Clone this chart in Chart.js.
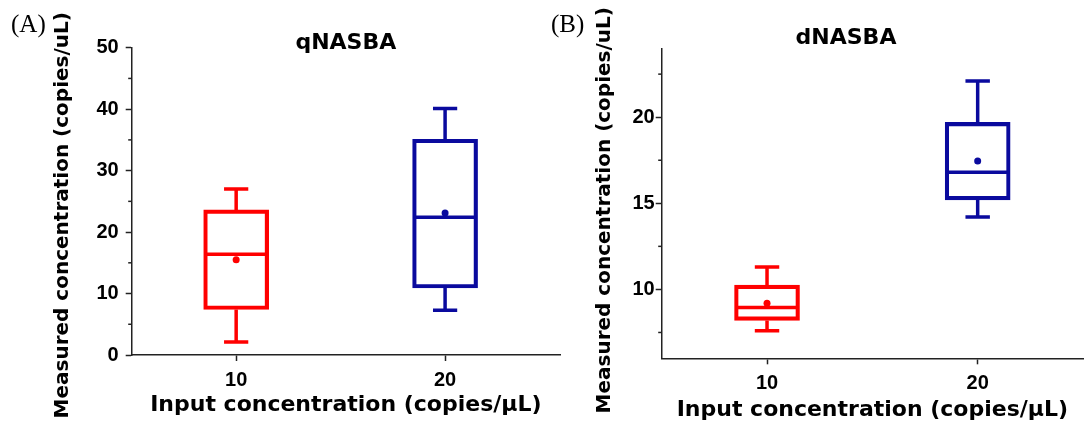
<!DOCTYPE html>
<html><head><meta charset="utf-8">
<script src="https://cdn.jsdelivr.net/npm/chart.js@4.4.0/dist/chart.umd.min.js"></script>
<style>
html,body{margin:0;padding:0;width:1090px;height:427px;overflow:hidden;background:#fff;}
#wrap{position:relative;width:1090px;height:427px;}
canvas{position:absolute;top:0;}
.plabel{position:absolute;font-family:"Liberation Serif","Times New Roman",serif;font-size:25px;line-height:25px;color:#000;}
</style></head>
<body><div id="wrap">
<canvas id="chartA" width="575" height="427" style="left:0px"></canvas>
<canvas id="chartB" width="545" height="427" style="left:545px"></canvas>
<div class="plabel" style="left:11px;top:11px">(A)</div>
<div class="plabel" style="left:551px;top:11px">(B)</div>
</div>
<script>
// ---------- data ----------
const CATEGORIES = [10, 20];
const X_TICKS = [10, 20];
const COLORS = ['#FF0000', '#0A0A9E'];

// Panel A: qNASBA
const A_MIN    = [2.1, 7.3];
const A_Q1     = [7.4, 10.9];
const A_MEDIAN = [16.4, 22.4];
const A_MEAN   = [15.5, 23.1];
const A_Q3     = [23.6, 35.1];
const A_MAX    = [27.0, 40.1];
const A_Y_TICKS = [0, 10, 20, 30, 40, 50];
const A_Y_MINOR = [5, 15, 25, 35, 45];

// Panel B: dNASBA
const B_MIN    = [7.6, 14.2];
const B_Q1     = [8.2, 15.2];
const B_MEDIAN = [8.95, 16.8];
const B_MEAN   = [9.2, 17.45];
const B_Q3     = [10.25, 19.7];
const B_MAX    = [11.3, 22.1];
const B_Y_TICKS = [10, 15, 20];
const B_Y_MINOR = [7.5, 12.5, 17.5, 22.5];

// ---------- styling ----------
const CAP_HALF = 0.58;
const MED_HALF = 1.5;
const AXIS = '#222';
const TICK_FONT = '"Liberation Sans", Arial, sans-serif';
const TITLE_FONT = '"DejaVu Sans", sans-serif';
const LW = 3.5;
const Y_TITLE = 'Measured concentration (copies/uL)';
const X_TITLE = 'Input concentration (copies/μL)';

function buildDatasets(min, q1, med, mean, q3, max) {
  const ds = [];
  ds.push({
    type: 'bar', label: 'box',
    data: CATEGORIES.map((c, i) => ({x: c, y: [q1[i], q3[i]]})),
    backgroundColor: 'rgba(0,0,0,0)', borderColor: COLORS, borderWidth: LW,
    borderSkipped: false, barThickness: 65, order: 2
  });
  CATEGORIES.forEach((c, i) => {
    ds.push({
      type: 'line', label: 'whiskers',
      data: [
        {x: c, y: q3[i]}, {x: c, y: max[i]}, {x: c, y: null},
        {x: c - CAP_HALF, y: max[i]}, {x: c + CAP_HALF, y: max[i]}, {x: c, y: null},
        {x: c, y: q1[i]}, {x: c, y: min[i]}, {x: c, y: null},
        {x: c - CAP_HALF, y: min[i]}, {x: c + CAP_HALF, y: min[i]}, {x: c, y: null},
        {x: c - MED_HALF, y: med[i]}, {x: c + MED_HALF, y: med[i]}
      ],
      borderColor: COLORS[i], borderWidth: LW, pointRadius: 0, spanGaps: false,
      tension: 0, fill: false, borderCapStyle: 'butt', order: 1
    });
  });
  ds.push({
    type: 'scatter', label: 'mean',
    data: CATEGORIES.map((c, i) => ({x: c, y: mean[i]})),
    backgroundColor: COLORS, borderColor: COLORS, pointRadius: 3.5, borderWidth: 0, order: 0
  });
  return ds;
}

const minorTicks = {
  id: 'minorTicks',
  afterDraw(chart, args, opts) {
    const y = chart.scales.y, ctx = chart.ctx, left = chart.chartArea.left;
    ctx.save();
    ctx.strokeStyle = AXIS; ctx.lineWidth = 1.5;
    opts.values.forEach(v => {
      const py = y.getPixelForValue(v);
      ctx.beginPath(); ctx.moveTo(left - opts.length, py); ctx.lineTo(left, py); ctx.stroke();
    });
    ctx.restore();
  }
};

function makeChart(id, cfg) {
  const TS = 22;                 // title font size
  const tLH = TS * 1.2;
  const padL = cfg.fullSize ? 2 * (cfg.titleCX - cfg.pageLeft) - (cfg.chartRight - cfg.pageLeft) : 0;
  const padR = cfg.canvasW - (cfg.chartRight - cfg.pageLeft);
  const yw = (cfg.chartLeft - cfg.pageLeft) - padL;
  const xh = 427 - cfg.chartBottom;
  const tTop = cfg.titleCY - tLH / 2;
  const tBottom = cfg.chartTop - tLH - tTop;
  const yTitlePad = (cfg.yTitleCX - cfg.pageLeft) - padL - 12;
  const xTitlePad = 427 - cfg.xTitleCY - 13.2;

  return new Chart(document.getElementById(id), {
    type: 'bar',
    data: {datasets: buildDatasets(cfg.min, cfg.q1, cfg.med, cfg.mean, cfg.q3, cfg.max)},
    options: {
      responsive: false, animation: false, devicePixelRatio: 1,
      layout: {padding: {left: padL, right: padR, top: 0, bottom: 0}},
      plugins: {
        legend: {display: false}, tooltip: {enabled: false},
        title: {display: true, text: cfg.title, fullSize: cfg.fullSize, color: '#000',
          font: {family: TITLE_FONT, size: TS, weight: 'bold', lineHeight: 1.2},
          padding: {top: tTop, bottom: tBottom}},
        minorTicks: {values: cfg.minor, length: 3.5}
      },
      scales: {
        x: {
          type: 'linear', min: 5, max: cfg.xMax, offset: false,
          afterBuildTicks: s => { s.ticks = X_TICKS.map(v => ({value: v})); },
          afterFit: s => { s.height = xh; },
          grid: {display: true, offset: false, drawOnChartArea: false, drawTicks: true, tickLength: 6, tickWidth: 1.5, tickColor: AXIS},
          border: {display: true, color: AXIS, width: 1.5},
          ticks: {font: {family: TICK_FONT, size: 20, weight: 'bold'}, color: '#000', padding: 7, maxRotation: 0, autoSkip: false},
          title: {display: true, text: X_TITLE, color: '#000',
            font: {family: TITLE_FONT, size: 22, weight: 'bold', lineHeight: 1.2},
            padding: {top: 0, bottom: xTitlePad}}
        },
        y: {
          type: 'linear', min: cfg.yMin, max: cfg.yMax, beginAtZero: false,
          afterBuildTicks: s => { s.ticks = cfg.yTicks.map(v => ({value: v})); },
          afterFit: s => { s.width = yw; },
          grid: {display: true, drawOnChartArea: false, drawTicks: true, tickLength: 6, tickWidth: 1.5, tickColor: AXIS},
          border: {display: true, color: AXIS, width: 1.5},
          ticks: {font: {family: TICK_FONT, size: 20, weight: 'bold'}, color: '#000', padding: cfg.yTickPad, autoSkip: false},
          title: {display: true, text: Y_TITLE + cfg.yTitleTail, color: '#000',
            font: {family: TITLE_FONT, size: 20, weight: 'bold', lineHeight: 1.2},
            padding: {top: yTitlePad, bottom: 0}}
        }
      }
    },
    plugins: [minorTicks]
  });
}

makeChart('chartA', {
  pageLeft: 0, canvasW: 575, chartLeft: 131.7, chartRight: 560, chartTop: 47.7, chartBottom: 355,
  fullSize: false, titleCX: 343, titleCY: 43.3, yTitleCX: 63, xTitleCY: 405, yTitleTail: '    ',
  title: 'qNASBA', xMax: 25.5, yMin: 0, yMax: 50, yTicks: A_Y_TICKS, minor: A_Y_MINOR, yTickPad: 7,
  min: A_MIN, q1: A_Q1, med: A_MEDIAN, mean: A_MEAN, q3: A_Q3, max: A_MAX
});
makeChart('chartB', {
  pageLeft: 545, canvasW: 545, chartLeft: 661.7, chartRight: 1083, chartTop: 48.3, chartBottom: 358.3,
  fullSize: true, titleCX: 846, titleCY: 38.5, yTitleCX: 604.5, xTitleCY: 410, yTitleTail: '  ',
  title: 'dNASBA', xMax: 25, yMin: 6, yMax: 24, yTicks: B_Y_TICKS, minor: B_Y_MINOR, yTickPad: 1,
  min: B_MIN, q1: B_Q1, med: B_MEDIAN, mean: B_MEAN, q3: B_Q3, max: B_MAX
});
</script>
</body></html>
